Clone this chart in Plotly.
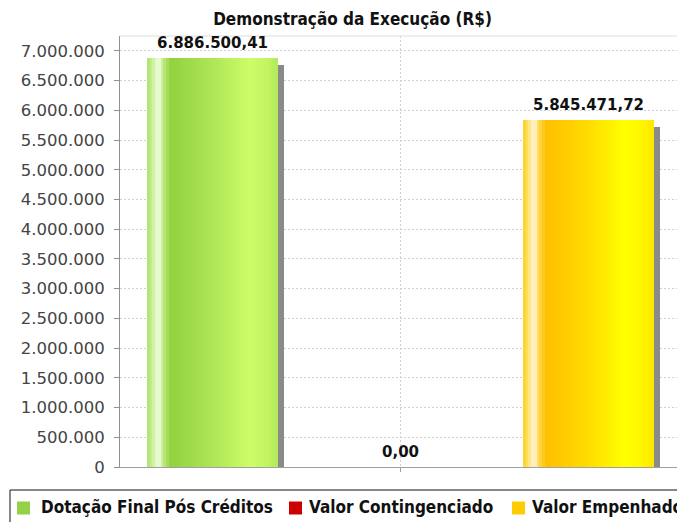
import plotly.graph_objects as go

# ---------------- data ----------------
chart_title = "Demonstração da Execução (R$)"
series_names = ["Dotação Final Pós Créditos", "Valor Contingenciado", "Valor Empenhado"]
series_values = [6886500.41, 0.00, 5845471.72]
y_tick_values = [0, 500000, 1000000, 1500000, 2000000, 2500000, 3000000, 3500000,
                 4000000, 4500000, 5000000, 5500000, 6000000, 6500000, 7000000]

# ---------------- styles ----------------
legend_colors = ["#94d048", "#cc0000", "#ffcc00"]
gradients = [
    [(0.0, "#b0e268"), (0.05, "#cdf0a0"), (0.085, "#f2fde8"), (0.12, "#c5ec8a"),
     (0.18, "#92d23e"), (0.5, "#aee656"), (0.78, "#cdfc68"), (0.92, "#c2f462"), (1.0, "#b2e85a")],
    [(0.0, "#e04040"), (0.05, "#f08080"), (0.085, "#fff0f0"), (0.12, "#e06060"),
     (0.18, "#c00000"), (0.5, "#d81010"), (0.78, "#ff2020"), (0.92, "#f01818"), (1.0, "#e01010")],
    [(0.0, "#ffd21a"), (0.05, "#ffe680"), (0.085, "#fff6e0"), (0.12, "#ffd850"),
     (0.18, "#ffc000"), (0.5, "#ffdc00"), (0.78, "#ffff00"), (0.92, "#fff400"), (1.0, "#ffe600")],
]
BAR_W = 0.697
STRIPS = 48
PX_PER_X = 188.0
Y_MAX = 7250000
PLOT_H = 431
PLOT_W = 564
SHADOW_DX = 6 / PX_PER_X
SHADOW_DY = 7 * Y_MAX / PLOT_H
FONT_C = "DejaVu Sans Condensed, DejaVu Sans, sans-serif"
FONT = "DejaVu Sans, sans-serif"

# the page puts the figure 8px in from the top-left corner; the chart is
# a little wider than the window (its legend runs off the right edge, as in the original)
FIG_W, FIG_H = 700, 514
M_L, M_T, M_B = 112, 28, 55
M_R = FIG_W - M_L - PLOT_W
PLOT_LEFT_PAGE, PLOT_BOTTOM_PAGE = 120, 467

# legend layout (page pixels)
LEG_BOX = (10, 490, 700, 530)
LEG_SWATCH_X = [17, 289, 512]
LEG_TEXT_X = [39, 307, 530]
LEG_ROW_Y = 507
SWATCH = 13


def px_x(p):
    return (p - PLOT_LEFT_PAGE) / PLOT_W


def px_y(p):
    return (PLOT_BOTTOM_PAGE - p) / PLOT_H


def hex2rgb(h):
    h = h.lstrip("#")
    return tuple(int(h[i:i + 2], 16) for i in (0, 2, 4))


def interp(stops, t):
    for (t0, c0), (t1, c1) in zip(stops[:-1], stops[1:]):
        if t0 <= t <= t1:
            f = 0 if t1 == t0 else (t - t0) / (t1 - t0)
            a, b = hex2rgb(c0), hex2rgb(c1)
            r = [round(a[k] + (b[k] - a[k]) * f) for k in range(3)]
            return "rgb(%d,%d,%d)" % tuple(r)
    return stops[-1][1]


def fmt_br(v):
    s = f"{v:,.2f}"
    return s.replace(",", "X").replace(".", ",").replace("X", ".")


fig = go.Figure()

# shadows
for i, (name, v) in enumerate(zip(series_names, series_values)):
    fig.add_trace(go.Bar(x=[i + SHADOW_DX], y=[v], base=[-SHADOW_DY], width=[BAR_W],
                         marker=dict(color="#8a8a8a", line=dict(width=0)),
                         showlegend=False, hoverinfo="skip"))

# solid bars (covered by gradient strips)
for i, (name, v) in enumerate(zip(series_names, series_values)):
    fig.add_trace(go.Bar(x=[i], y=[v], width=[BAR_W], name=name,
                         marker=dict(color=legend_colors[i], line=dict(width=0)),
                         showlegend=False))

# gradient strips
for i, (name, v) in enumerate(zip(series_names, series_values)):
    xs, cols = [], []
    for k in range(STRIPS):
        t = (k + 0.5) / STRIPS
        xs.append(i + BAR_W * (t - 0.5))
        cols.append(interp(gradients[i], t))
    fig.add_trace(go.Bar(x=xs, y=[v] * STRIPS, width=[BAR_W / STRIPS * 1.08] * STRIPS,
                         marker=dict(color=cols, line=dict(width=0)),
                         showlegend=False, hoverinfo="skip"))

# value labels
for i, v in enumerate(series_values):
    fig.add_annotation(x=i, y=v, text=fmt_br(v), showarrow=False, yanchor="bottom",
                       yshift=4, font=dict(family=FONT, size=15,
                                           color="#111111", weight="bold"))

# legend (box, swatches, names)
fig.add_shape(type="rect", xref="paper", yref="paper",
              x0=px_x(LEG_BOX[0]), x1=px_x(LEG_BOX[2]),
              y0=px_y(LEG_BOX[1]), y1=px_y(LEG_BOX[3]),
              line=dict(color="#111111", width=1), fillcolor="white")
for i, name in enumerate(series_names):
    fig.add_shape(type="rect", xref="paper", yref="paper",
                  x0=px_x(LEG_SWATCH_X[i]), x1=px_x(LEG_SWATCH_X[i] + SWATCH),
                  y0=px_y(LEG_ROW_Y - SWATCH / 2 + 1), y1=px_y(LEG_ROW_Y + SWATCH / 2 + 1),
                  line=dict(width=0), fillcolor=legend_colors[i])
    fig.add_annotation(xref="paper", yref="paper", x=px_x(LEG_TEXT_X[i]), y=px_y(LEG_ROW_Y),
                       xanchor="left", yanchor="middle", text=name, showarrow=False,
                       font=dict(family=FONT_C, size=17, color="#111111", weight="bold"))

fig.update_layout(
    width=FIG_W, height=FIG_H,
    barmode="overlay", bargap=0,
    separators=",.",
    paper_bgcolor="white", plot_bgcolor="white",
    margin=dict(l=M_L, r=M_R, t=M_T, b=M_B, pad=0, autoexpand=False),
    title=dict(text=chart_title, x=344.5 / FIG_W, xanchor="center", xref="container",
               y=1 - 11 / FIG_H, yanchor="middle", yref="container",
               font=dict(family=FONT_C, size=17, color="#111111", weight="bold")),
    showlegend=False,
)
fig.update_xaxes(range=[-0.492, 2.508], tickvals=[1], ticktext=[""],
                 showgrid=True, gridcolor="#d0d0d0", griddash="2px,2px", gridwidth=1,
                 showline=True, linecolor="#a0a0a0", linewidth=1,
                 ticks="outside", ticklen=4, tickcolor="#a0a0a0", zeroline=False,
                 fixedrange=True)
fig.update_yaxes(range=[0, Y_MAX], tickvals=y_tick_values, tickformat=",.0f",
                 showgrid=True, gridcolor="#d0d0d0", griddash="2px,2px", gridwidth=1,
                 showline=True, linecolor="#909090", linewidth=1,
                 ticks="outside", ticklen=5, tickcolor="#909090", zeroline=False,
                 ticklabelstandoff=6,
                 tickfont=dict(family=FONT, size=16.5, color="#444444"),
                 fixedrange=True)
fig.add_shape(type="line", xref="paper", yref="paper", x0=0, x1=1, y0=1, y1=1,
              line=dict(color="#dddddd", width=1))

fig.write_html("out.html")
